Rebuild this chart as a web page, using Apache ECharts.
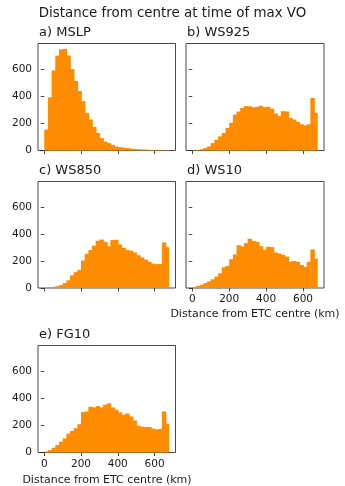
<!DOCTYPE html>
<html><head><meta charset="utf-8">
<script src="https://cdn.jsdelivr.net/npm/echarts@6/dist/echarts.min.js"></script>
<style>html,body{margin:0;padding:0;background:#fff}#c{width:345px;height:486px}</style>
</head><body><div id="c"></div>
<script>
// ---- data ----
const binEdges = [0,20,40,60,80,100,120,140,160,180,200,220,240,260,280,300,320,340,360,380,400,420,440,460,480,500,520,540,560,580,600,620,640,660,680];
const mslp  = [155,395,595,705,752,755,705,605,517,442,367,280,230,175,130,92,67,55,42,30,25,22,18,14,12,10,8,7,5,4,3,3,2,2];
const ws925 = [2,5,10,18,30,55,80,105,130,167,205,267,290,317,330,328,322,325,332,322,325,310,275,255,292,290,242,230,212,195,185,195,390,280];
const ws850 = [0,3,8,14,22,37,57,95,118,135,205,255,284,316,353,362,345,312,358,360,325,300,284,278,265,245,228,212,195,182,178,180,340,305];
const ws10  = [7,15,25,37,50,65,85,110,155,165,215,250,320,310,335,368,352,345,312,285,308,305,265,258,248,235,198,202,195,172,158,195,288,220];
const fg10  = [7,18,35,55,80,105,140,160,180,210,300,305,340,335,345,335,355,365,335,318,298,280,290,268,238,200,192,190,190,178,172,175,305,215];
const panelTitles = ['a) MSLP','b) WS925','c) WS850','d) WS10','e) FG10'];
const yTicks = [0,200,400,600];
const xTicks = [0,200,400,600];
const xMin = -34, xMax = 714, yMax = 795;
const mainTitle = 'Distance from centre at time of max VO';
const xLabel = 'Distance from ETC centre (km)';

// ---- layout ----
const FONT = 'DejaVu Sans';
const COLOR = '#ff8c00';
const INK = '#1a1a1a';
const panels = [
  {data: mslp,  left: 38,  top: 43.5, w: 137.5, h: 107, yl: true,  xl: false},
  {data: ws925, left: 186, top: 43.5, w: 138,   h: 107, yl: false, xl: false},
  {data: ws850, left: 38,  top: 181.5,w: 137.5, h: 106.5, yl: true,  xl: false},
  {data: ws10,  left: 186, top: 181.5,w: 138,   h: 106.5, yl: false, xl: true},
  {data: fg10,  left: 38,  top: 345.5,w: 137.5, h: 107, yl: true,  xl: true}
];

const grid = [], xAxis = [], yAxis = [], series = [], graphic = [];
panels.forEach((p, i) => {
  grid.push({left: p.left, top: p.top, width: p.w, height: p.h, show: true,
    borderColor: INK, borderWidth: 0.8, backgroundColor: 'transparent', containLabel: false});
  xAxis.push({type: 'value', gridIndex: i, min: xMin, max: xMax,
    axisLine: {show: false}, splitLine: {show: false},
    axisTick: {show: true, length: 3.5, inside: false, customValues: xTicks, lineStyle: {color: INK, width: 0.8}},
    axisLabel: {show: p.xl, customValues: xTicks, fontFamily: FONT, fontSize: 10.5, color: INK, margin: 6}});
  yAxis.push({type: 'value', gridIndex: i, min: 0, max: yMax,
    axisLine: {show: false}, splitLine: {show: false},
    axisTick: {show: true, length: 3.5, inside: false, customValues: yTicks, lineStyle: {color: INK, width: 0.8}},
    axisLabel: {show: p.yl, customValues: yTicks, fontFamily: FONT, fontSize: 10.5, color: INK, margin: 6}});
  const rows = p.data.map((v, k) => [binEdges[k], binEdges[k+1], v]);
  series.push({type: 'custom', xAxisIndex: i, yAxisIndex: i, data: rows,
    encode: {x: [0, 1], y: 2}, animation: false, z: 1,
    renderItem: (params, api) => {
      const a = api.coord([api.value(0), 0]);
      const b = api.coord([api.value(1), api.value(2)]);
      const last = params.dataIndex === rows.length - 1;
      return {type: 'rect', shape: {x: a[0], y: b[1], width: (b[0] - a[0]) + (last ? 0 : 0.8), height: a[1] - b[1]},
        style: {fill: COLOR}};
    }});
  graphic.push({type: 'text', left: p.left + 1, top: p.top - 17,
    style: {text: panelTitles[i], font: '13px "' + FONT + '"', fill: INK}});
});
graphic.push({type: 'text', left: 'center', top: 7,
  style: {text: mainTitle, font: '13.4px "' + FONT + '"', fill: INK}});
graphic.push({type: 'text', x: 186 + 69, y: 314, style: {text: xLabel, font: '11px "' + FONT + '"', fill: INK, align: 'center', verticalAlign: 'middle'}});
graphic.push({type: 'text', x: 38 + 69, y: 480, style: {text: xLabel, font: '11px "' + FONT + '"', fill: INK, align: 'center', verticalAlign: 'middle'}});

const chart = echarts.init(document.getElementById('c'), null, {renderer: 'canvas'});
chart.setOption({animation: false, backgroundColor: '#fff', grid, xAxis, yAxis, series, graphic});
</script></body></html>
